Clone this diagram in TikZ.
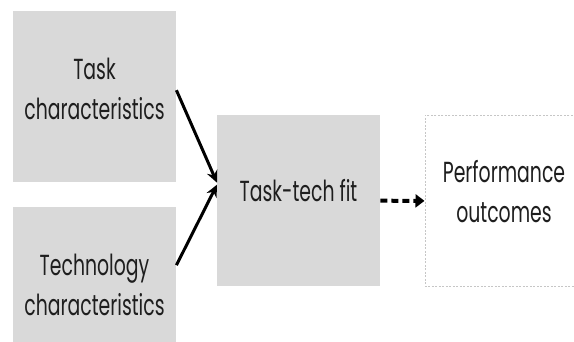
\documentclass[tikz,border=0pt]{standalone}
\usepackage{fontspec}
\setmainfont{Poppins}[FakeStretch=0.65]
\usetikzlibrary{arrows.meta}
\definecolor{boxgray}{HTML}{D9D9D9}
\definecolor{txt}{HTML}{1E1E1E}
\tikzset{
  box/.style={fill=boxgray, draw=none, minimum width=163pt, minimum height=171pt, inner sep=0pt, anchor=north west},
  outbox/.style={draw=gray!45, dashed, dash pattern=on 2pt off 1.5pt, line width=0.8pt, fill=white, minimum width=160pt, minimum height=171pt, inner sep=0pt, anchor=north west},
  lbl/.style={font=\fontsize{29}{40}\selectfont, text=txt, align=center, inner sep=0pt},
  conn/.style={line width=3pt, -{Stealth[length=12pt,width=11pt]}},
  dconn/.style={line width=4pt, dash pattern=on 7pt off 4pt, -{Triangle[length=9pt,width=13pt]}}
}
\begin{document}
\begin{tikzpicture}[x=1pt,y=1pt]
\useasboundingbox (0,0) rectangle (574,342);
\begin{scope}
\clip (0,0) rectangle (574,342);
\node[box] (task) at (13,331) {};
\node[box] (tech) at (13,135) {};
\node[box] (fit) at (217,227) {};
\node[outbox] (perf) at (424.5,227) {};
\end{scope}
\node[lbl] (taskl) at (94.5,253) {Task\\characteristics};
\node[lbl] (techl) at (94.5,57) {Technology\\characteristics};
\node[lbl] (fitl) at (298.5,151) {Task-tech fit};
\node[lbl] (perfl) at (504,150) {Performance\\outcomes};
\draw[conn] ([yshift=6.5pt]task.east) -- ([yshift=18pt]fit.west);
\draw[conn] ([yshift=27.5pt]tech.east) -- ([yshift=16pt]fit.west);
\draw[dconn] (fit.east) -- (perf.west);
\end{tikzpicture}
\end{document}
